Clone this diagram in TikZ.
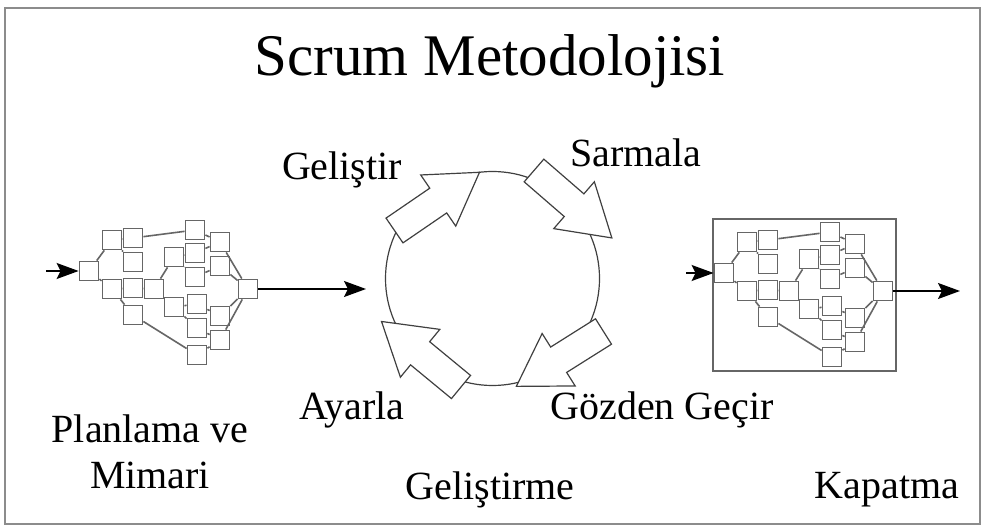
\documentclass[tikz,border=0pt]{standalone}
\usepackage{fontspec}
\setmainfont{Liberation Serif}
\usetikzlibrary{arrows.meta}

\tikzset{
  blk/.style={draw=black!60,line width=0.9pt,fill=white,inner sep=0pt,minimum size=9.5pt},
  wire/.style={draw=black!60,line width=0.8pt},
  flow/.style={line width=0.8pt,-{Stealth[length=11pt,width=8pt,inset=2pt]}},
  lbl/.style={anchor=base,font=\fontsize{20}{23}\selectfont},
  pics/bigarrow/.style={code={
    \draw[black!75,line width=0.6pt,fill=white] (0,-15) -- (53,-15) -- (53,-31) -- (103,0)
      -- (53,31) -- (53,15) -- (0,15) -- cycle;}}
}

\begin{document}
\begin{tikzpicture}[x=0.5pt,y=-0.5pt]
  \useasboundingbox (0,0) rectangle (984,528);
  \draw[black!45,line width=1.2pt] (5,8) rectangle (980,524);

  \node[anchor=base,font=\fontsize{29.5}{34}\selectfont] (title) at (490,76) {Scrum Metodolojisi};

  % the two task networks
  \draw[black!60,line width=0.8pt] (713,219) rectangle (896,371);
  \foreach \p/\dx/\dy in {L/0/0,R/635/2}{
    \begin{scope}[shift={(\dx,\dy)}]
      \foreach \n/\x/\y in {a/89/271,b1/112/240,b2/112/289,c1/133/238,c2/133/262,c3/133/288,
          c4/133/315,d/154/289,e1/174/257,e2/174/307,f1/195/230,f2/195/253,f3/195/277,
          f4/197/304,f5/197/328,f6/197/355,g1/220/242,g2/220/266,g3/220/316,g4/220/340,h/248/289}
        \node[blk] (\p\n) at (\x,\y) {};
      \foreach \s/\t in {a/b1,a/b2,b1/c1,b1/c2,b2/c3,b2/c4,c1/f1,c3/d,c4/f6,d/e1,d/e2,
          e1/f2,e1/f3,e2/f4,e2/f5,f1/g1,f2/g1,f3/g2,f4/g3,f5/g4,f6/g4,g1/h,g2/h,g3/h,g4/h}
        \draw[wire] (\p\s) -- (\p\t);
    \end{scope}
  }

  \coordinate (Lin) at (46,271);
  \coordinate (Lout) at (366,289);
  \coordinate (Rin) at (686,273);
  \coordinate (Rout) at (960,291);
  \draw[flow] (Lin) -- (La);
  \draw[flow] (Lh) -- (Lout);
  \draw[flow] (Rin) -- (Ra);
  \draw[flow] (Rh) -- (Rout);

  % sprint cycle
  \node[circle,draw=black!75,line width=0.6pt,inner sep=0pt,minimum size=107pt] (sprint) at (492.5,278.5) {};
  \pic[rotate=34.4] at (394.5,230.5) {bigarrow};
  \pic[rotate=-40.9] at (534,170.5) {bigarrow};
  \pic[rotate=212.2] at (603.5,331.5) {bigarrow};
  \pic[rotate=140.5] at (461,387) {bigarrow};

  \node[lbl] (gelistir) at (342,180) {Geliştir};
  \node[lbl] (sarmala) at (636,167) {Sarmala};
  \node[lbl] (ayarla) at (352,420) {Ayarla};
  \node[lbl] (gozden) at (662,420) {Gözden Geçir};
  \node[lbl,align=center] (planlama) at (150,488) {Planlama ve\\Mimari};
  \node[lbl] (gelistirme) at (490,500) {Geliştirme};
  \node[lbl] (kapatma) at (887,498) {Kapatma};
\end{tikzpicture}
\end{document}
